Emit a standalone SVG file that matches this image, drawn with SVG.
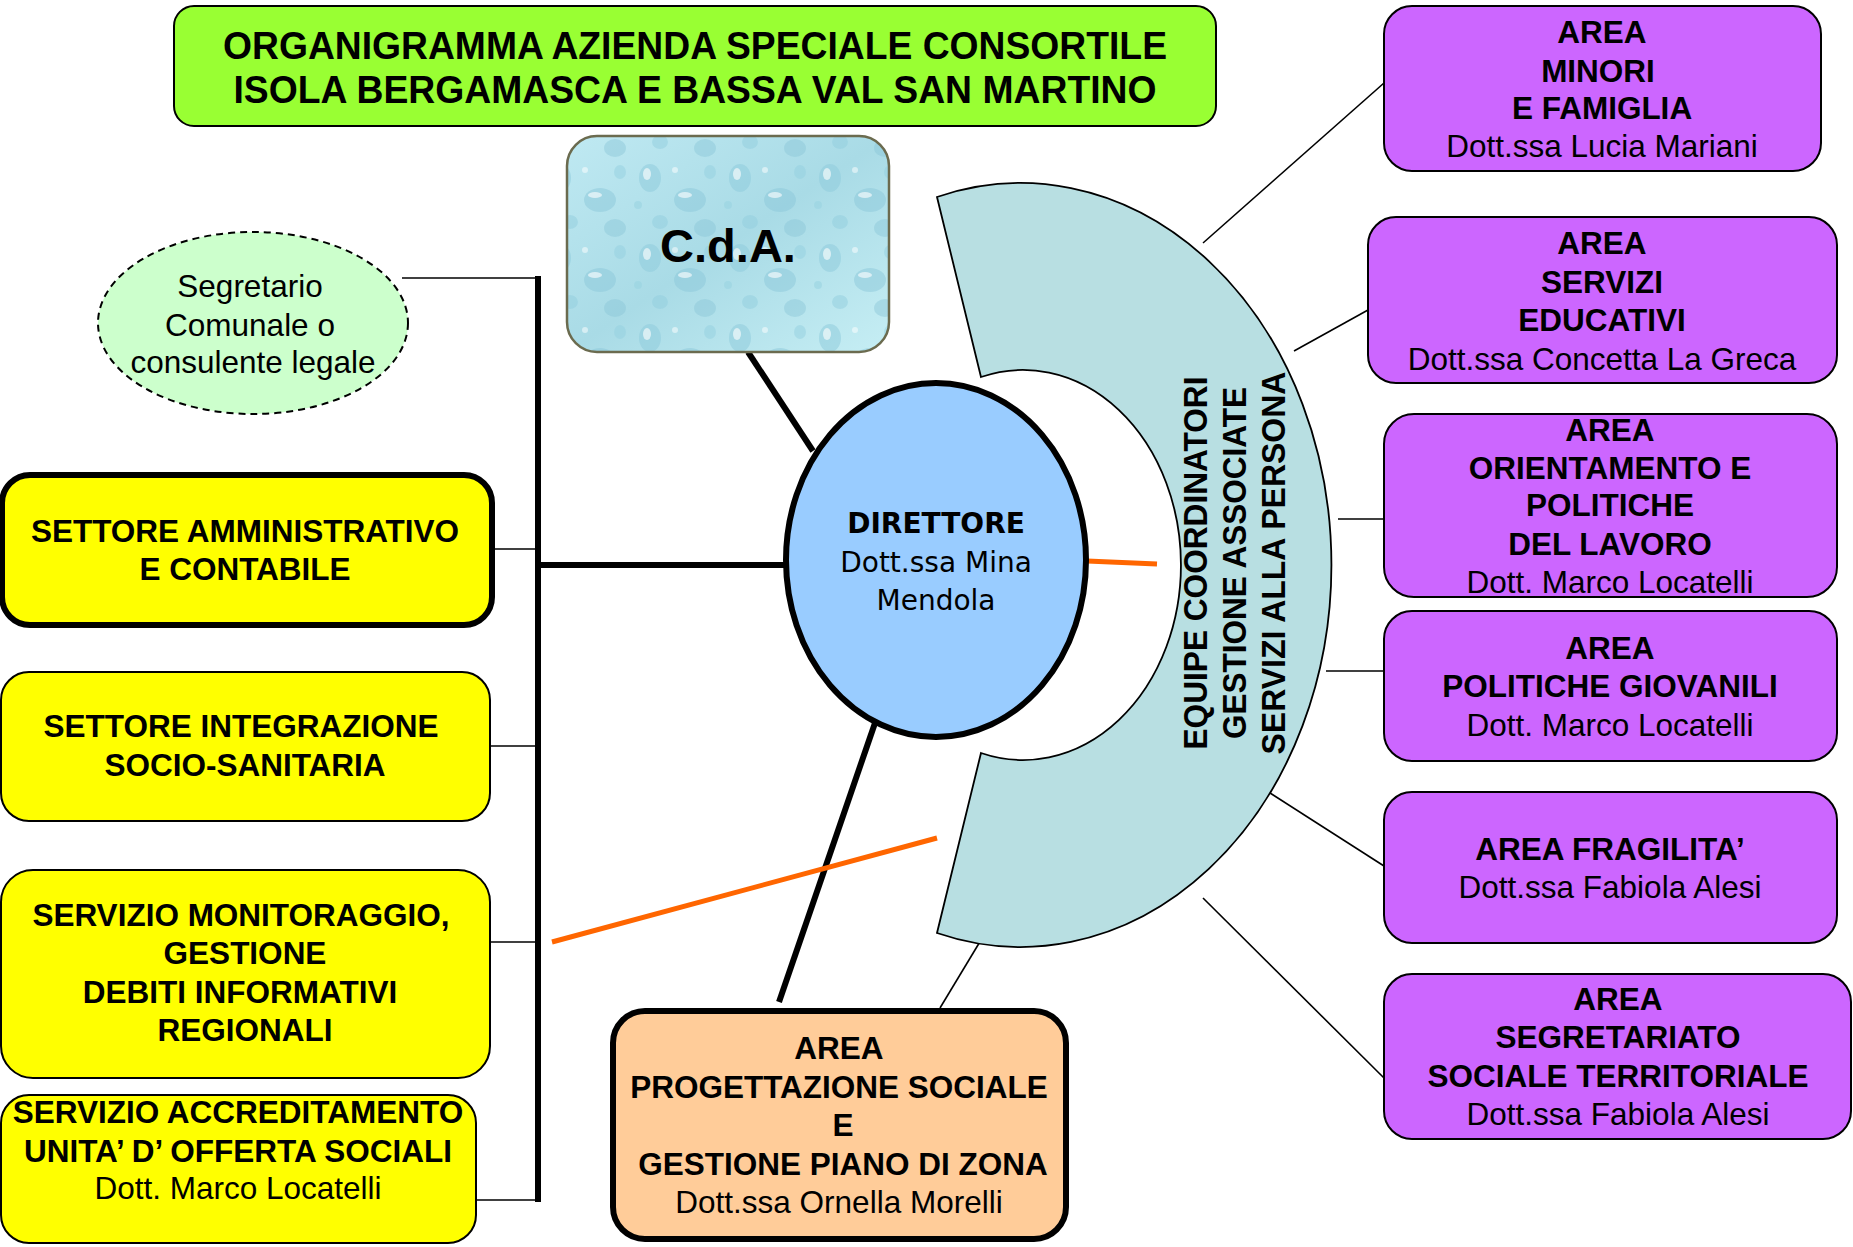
<svg xmlns="http://www.w3.org/2000/svg" width="1853" height="1247" viewBox="0 0 1853 1247">
<style>
.b{font-family:"Liberation Sans",Arial,sans-serif;font-weight:bold;font-size:31.5px;text-anchor:middle;fill:#000}
.r{font-family:"Liberation Sans",Arial,sans-serif;font-size:31.5px;text-anchor:middle;fill:#000}
.thin{stroke:#000;stroke-width:1.6;fill:none}
.thick{stroke:#000;stroke-width:6;fill:none}
.orange{stroke:#ff6600;stroke-width:5;fill:none}
.purple{fill:#cc66ff;stroke:#000;stroke-width:2}
.yellow{fill:#ffff00;stroke:#000;stroke-width:2}
</style>
<defs>
<linearGradient id="water" x1="0" y1="0" x2="1" y2="1">
<stop offset="0" stop-color="#bfe9f2"/>
<stop offset="0.5" stop-color="#a9dbe6"/>
<stop offset="1" stop-color="#c6eef4"/>
</linearGradient>
<pattern id="drops" width="90" height="80" patternUnits="userSpaceOnUse">
<ellipse cx="20" cy="18" rx="11" ry="14" fill="#8fcbdc" fill-opacity="0.55"/>
<ellipse cx="17" cy="14" rx="4" ry="6" fill="#ffffff" fill-opacity="0.6"/>
<ellipse cx="60" cy="40" rx="16" ry="12" fill="#8cc7d9" fill-opacity="0.5"/>
<ellipse cx="55" cy="35" rx="7" ry="3" fill="#ffffff" fill-opacity="0.6"/>
<ellipse cx="30" cy="62" rx="8" ry="7" fill="#92cede" fill-opacity="0.5"/>
<ellipse cx="80" cy="12" rx="6" ry="7" fill="#93cfdf" fill-opacity="0.5"/>
<ellipse cx="75" cy="68" rx="11" ry="9" fill="#89c5d8" fill-opacity="0.45"/>
<circle cx="45" cy="10" r="3" fill="#ffffff" fill-opacity="0.5"/>
<circle cx="8" cy="45" r="4" fill="#9ad3e1" fill-opacity="0.6"/>
</pattern>
</defs>

<rect width="1853" height="1247" fill="#ffffff"/>

<g id="connectors">
<line class="thin" x1="402" y1="278" x2="538" y2="278"/>
<line class="thick" x1="538" y1="276" x2="538" y2="1202"/>
<line class="thin" x1="492" y1="549" x2="538" y2="549"/>
<line class="thin" x1="490" y1="746" x2="538" y2="746"/>
<line class="thin" x1="490" y1="942" x2="538" y2="942"/>
<line class="thin" x1="476" y1="1200" x2="538" y2="1200"/>
<line class="thick" x1="538" y1="565" x2="786" y2="565"/>
<line class="thick" x1="748" y1="352" x2="813" y2="451"/>
<line class="thick" x1="875" y1="723" x2="779" y2="1002"/>
<line class="thin" x1="1203" y1="243" x2="1384" y2="83"/>
<line class="thin" x1="1294" y1="351" x2="1368" y2="310"/>
<line class="thin" x1="1338" y1="519" x2="1384" y2="519"/>
<line class="thin" x1="1326" y1="671" x2="1384" y2="671"/>
<line class="thin" x1="1270" y1="793" x2="1384" y2="866"/>
<line class="thin" x1="1203" y1="898" x2="1384" y2="1078"/>
<line class="thin" x1="981" y1="940" x2="940" y2="1008"/>
</g>

<g id="title">
<rect x="174" y="6" width="1042" height="120" rx="20" fill="#99ff33" stroke="#000" stroke-width="2"/>
<text class="b" x="695" y="59" style="font-size:38px" textLength="944" lengthAdjust="spacingAndGlyphs">ORGANIGRAMMA AZIENDA SPECIALE CONSORTILE</text>
<text class="b" x="695" y="103" style="font-size:38px" textLength="923" lengthAdjust="spacingAndGlyphs">ISOLA BERGAMASCA E BASSA VAL SAN MARTINO</text>
</g>

<g id="cda">
<rect x="567" y="136" width="322" height="216" rx="30" fill="url(#water)"/>
<rect x="567" y="136" width="322" height="216" rx="30" fill="url(#drops)" stroke="#6b6b4f" stroke-width="2.5"/>
<text class="b" x="728" y="262" style="font-size:47px">C.d.A.</text>
</g>

<g id="segretario">
<ellipse cx="253" cy="323" rx="155" ry="91" fill="#ccffcc" stroke="#000" stroke-width="2" stroke-dasharray="7,5"/>
<text class="r" x="250" y="297">Segretario</text>
<text class="r" x="250" y="336">Comunale o</text>
<text class="r" x="253" y="373">consulente legale</text>
</g>

<g id="equipe">
<path d="M937,197 A311,382 0 1 1 937,933 L981,753 A158,195 0 1 0 981,377 Z" fill="#b8dfe2" stroke="#000" stroke-width="1.8"/>
<text class="b" style="font-size:34px" transform="translate(1207,563) rotate(-90)" textLength="373" lengthAdjust="spacingAndGlyphs">EQUIPE COORDINATORI</text>
<text class="b" style="font-size:34px" transform="translate(1246,563) rotate(-90)" textLength="352" lengthAdjust="spacingAndGlyphs">GESTIONE ASSOCIATE</text>
<text class="b" style="font-size:34px" transform="translate(1285,563) rotate(-90)" textLength="383" lengthAdjust="spacingAndGlyphs">SERVIZI ALLA PERSONA</text>
</g>

<g id="orange-lines">
<line class="orange" x1="1087" y1="561" x2="1157" y2="564"/>
<line class="orange" x1="552" y1="942" x2="937" y2="838"/>
</g>

<g id="direttore">
<ellipse cx="936" cy="560" rx="150" ry="177" fill="#99ccff" stroke="#000" stroke-width="6"/>
<text x="936" y="533" font-family="'DejaVu Sans',Verdana,sans-serif" font-weight="bold" font-size="28" text-anchor="middle">DIRETTORE</text>
<text x="936" y="572" font-family="'DejaVu Sans',Verdana,sans-serif" font-size="28" text-anchor="middle">Dott.ssa Mina</text>
<text x="936" y="610" font-family="'DejaVu Sans',Verdana,sans-serif" font-size="28" text-anchor="middle">Mendola</text>
</g>

<g id="settore-amm">
<rect x="2" y="475" width="490" height="150" rx="28" fill="#ffff00" stroke="#000" stroke-width="6"/>
<text class="b" x="245" y="542">SETTORE AMMINISTRATIVO</text>
<text class="b" x="245" y="580">E CONTABILE</text>
</g>

<g id="settore-int">
<rect class="yellow" x="1" y="672" width="489" height="149" rx="28"/>
<text class="b" x="241" y="737">SETTORE INTEGRAZIONE</text>
<text class="b" x="245" y="776">SOCIO-SANITARIA</text>
</g>

<g id="monitoraggio">
<rect class="yellow" x="1" y="870" width="489" height="208" rx="32"/>
<text class="b" x="241" y="926">SERVIZIO MONITORAGGIO,</text>
<text class="b" x="245" y="964">GESTIONE</text>
<text class="b" x="240" y="1003">DEBITI INFORMATIVI</text>
<text class="b" x="245" y="1041">REGIONALI</text>
</g>

<g id="accreditamento">
<rect class="yellow" x="1" y="1095" width="475" height="148" rx="28"/>
<text class="b" x="238" y="1123">SERVIZIO ACCREDITAMENTO</text>
<text class="b" x="238" y="1162">UNITA’ D’ OFFERTA SOCIALI</text>
<text class="r" x="238" y="1199">Dott. Marco Locatelli</text>
</g>

<g id="progettazione">
<rect x="613" y="1011" width="453" height="228" rx="32" fill="#ffcc99" stroke="#000" stroke-width="6"/>
<text class="b" x="839" y="1059">AREA</text>
<text class="b" x="839" y="1098">PROGETTAZIONE SOCIALE</text>
<text class="b" x="843" y="1136">E</text>
<text class="b" x="843" y="1175">GESTIONE PIANO DI ZONA</text>
<text class="r" x="839" y="1213">Dott.ssa Ornella Morelli</text>
</g>

<g id="area-minori">
<rect class="purple" x="1384" y="6" width="437" height="165" rx="28"/>
<text class="b" x="1602" y="43">AREA</text>
<text class="b" x="1598" y="82">MINORI</text>
<text class="b" x="1602" y="119">E FAMIGLIA</text>
<text class="r" x="1602" y="157">Dott.ssa Lucia Mariani</text>
</g>

<g id="area-educativi">
<rect class="purple" x="1368" y="217" width="469" height="166" rx="28"/>
<text class="b" x="1602" y="254">AREA</text>
<text class="b" x="1602" y="293">SERVIZI</text>
<text class="b" x="1602" y="331">EDUCATIVI</text>
<text class="r" x="1602" y="370">Dott.ssa Concetta La Greca</text>
</g>

<g id="area-orientamento">
<rect class="purple" x="1384" y="414" width="453" height="183" rx="30"/>
<text class="b" x="1610" y="441">AREA</text>
<text class="b" x="1610" y="479">ORIENTAMENTO E</text>
<text class="b" x="1610" y="516">POLITICHE</text>
<text class="b" x="1610" y="555">DEL LAVORO</text>
<text class="r" x="1610" y="593">Dott. Marco Locatelli</text>
</g>

<g id="area-giovanili">
<rect class="purple" x="1384" y="611" width="453" height="150" rx="28"/>
<text class="b" x="1610" y="659">AREA</text>
<text class="b" x="1610" y="697">POLITICHE GIOVANILI</text>
<text class="r" x="1610" y="736">Dott. Marco Locatelli</text>
</g>

<g id="area-fragilita">
<rect class="purple" x="1384" y="792" width="453" height="151" rx="28"/>
<text class="b" x="1610" y="860">AREA FRAGILITA’</text>
<text class="r" x="1610" y="898">Dott.ssa Fabiola Alesi</text>
</g>

<g id="area-segretariato">
<rect class="purple" x="1384" y="974" width="467" height="165" rx="28"/>
<text class="b" x="1618" y="1010">AREA</text>
<text class="b" x="1618" y="1048">SEGRETARIATO</text>
<text class="b" x="1618" y="1087">SOCIALE TERRITORIALE</text>
<text class="r" x="1618" y="1125">Dott.ssa Fabiola Alesi</text>
</g>
</svg>
